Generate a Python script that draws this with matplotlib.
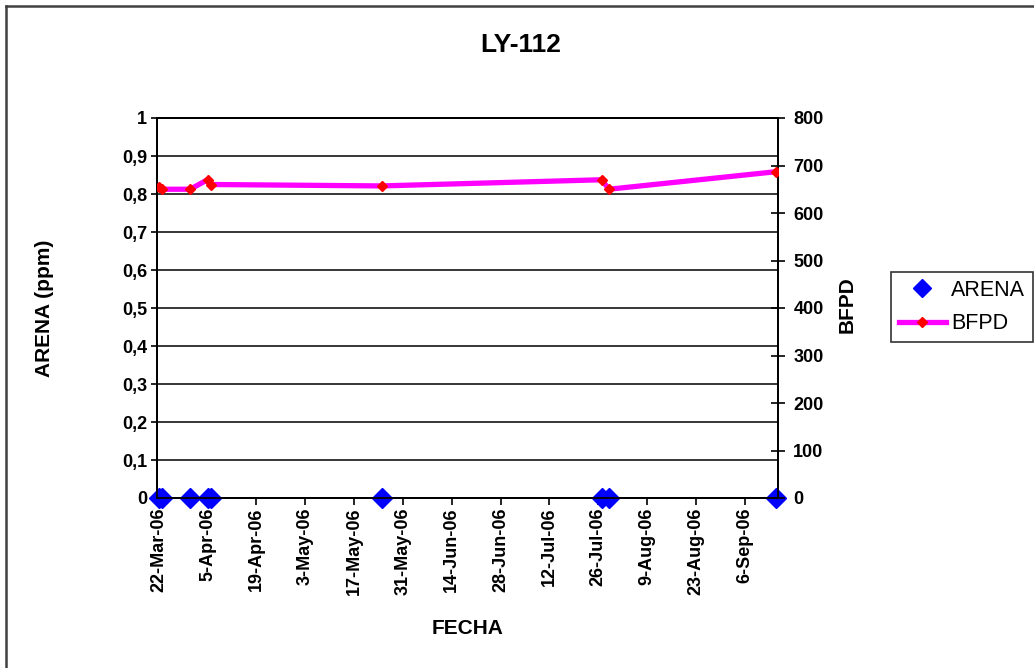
import matplotlib
matplotlib.use("Agg")
import matplotlib.pyplot as plt
import matplotlib.dates as mdates
from matplotlib.lines import Line2D
import pandas as pd

plt.rcParams['font.family'] = ['Liberation Sans', 'DejaVu Sans']

# Sampling dates for well LY-112
fechas = ["2006-03-22", "2006-03-23", "2006-03-31", "2006-04-05", "2006-04-06",
          "2006-05-25", "2006-07-27", "2006-07-29", "2006-09-15"]
# Sand content (ppm)
arena = [0, 0, 0, 0, 0, 0, 0, 0, 0]
# Barrels of fluid per day
bfpd = [655, 650, 650, 670, 660, 657, 670, 650, 687]

arena_ticks = [0.0, 0.1, 0.2, 0.3, 0.4, 0.5, 0.6, 0.7, 0.8, 0.9, 1.0]
bfpd_ticks = [0, 100, 200, 300, 400, 500, 600, 700, 800]

W, H = 1034, 668
fig = plt.figure(figsize=(W / 100, H / 100), dpi=100)
fig.patch.set_facecolor("white")

# outer chart frame (top and left edges)
fig.lines.append(Line2D([6 / W, 1.0], [1 - 6 / H, 1 - 6 / H], transform=fig.transFigure,
                        color="#404040", linewidth=1.8))
fig.lines.append(Line2D([6 / W, 6 / W], [0.0, 1 - 6 / H], transform=fig.transFigure,
                        color="#404040", linewidth=1.8))

left, right, top, bottom = 157, 778, 118, 498
ax = fig.add_axes([left / W, 1 - bottom / H, (right - left) / W, (bottom - top) / H])
ax2 = ax.twinx()

x = pd.to_datetime(fechas)
xn = mdates.date2num(x)

ax.set_ylim(0, 1)
ax.set_yticks(arena_ticks)
ax.set_yticklabels([("%g" % v).replace(".", ",") for v in arena_ticks],
                   fontsize=13, fontweight="bold")
ax.yaxis.grid(True, color="black", linewidth=1.1)
ax.set_axisbelow(True)

ax.set_xlim(xn[0] - 0.5, xn[-1] + 0.5)
tick_dates = pd.date_range(fechas[0], fechas[-1], freq="14D")
ax.set_xticks(mdates.date2num(tick_dates))
ax.set_xticklabels([f"{d.day}-{d.strftime('%b-%y')}" for d in tick_dates],
                   rotation=90, fontsize=13, fontweight="bold")

ax.plot(xn, arena, linestyle="none", marker="D", markersize=10,
        color="#0000FF", clip_on=False, zorder=5)

ax2.set_ylim(0, 800)
ax2.set_yticks(bfpd_ticks)
ax2.set_yticklabels([str(v) for v in bfpd_ticks], fontsize=13, fontweight="bold")
ax2.plot(xn, bfpd, color="#FF00FF", linewidth=3.8, marker="D", markersize=5,
         markerfacecolor="#FF0000", markeredgecolor="#FF0000", zorder=4)

for a in (ax, ax2):
    for s in a.spines.values():
        s.set_color("black")
        s.set_linewidth(1.3)
ax.tick_params(axis="y", direction="out", length=4, width=1.2, pad=3)
ax.tick_params(axis="x", direction="out", length=5, width=1.2, pad=2)
ax2.tick_params(axis="y", direction="inout", length=10, width=1.2, pad=6)

fig.text(521 / W, 1 - 45 / H, "LY-112", ha="center", va="center",
         fontsize=19, fontweight="bold")
fig.text(45 / W, 1 - 308 / H, "ARENA (ppm)", rotation=90, ha="center", va="center",
         fontsize=15, fontweight="bold")
fig.text(847 / W, 1 - 305 / H, "BFPD", rotation=90, ha="center", va="center",
         fontsize=15, fontweight="bold")
fig.text(468 / W, 1 - 628 / H, "FECHA", ha="center", va="center",
         fontsize=15, fontweight="bold")

handles = [
    Line2D([], [], linestyle="none", marker="D", markersize=9, color="#0000FF"),
    Line2D([], [], color="#FF00FF", linewidth=3.8, marker="D", markersize=5,
           markerfacecolor="#FF0000", markeredgecolor="#FF0000"),
]
leg = fig.legend(handles, ["ARENA", "BFPD"], loc="upper left",
                 bbox_to_anchor=(891 / W, 1 - 272 / H), borderaxespad=0,
                 frameon=True, fancybox=False, fontsize=15.5, handlelength=2.2,
                 handletextpad=0.25, borderpad=0.35, labelspacing=0.6)
leg.get_frame().set_edgecolor("black")
leg.get_frame().set_linewidth(1.2)

fig.savefig("out.png", dpi=100, facecolor="white")
